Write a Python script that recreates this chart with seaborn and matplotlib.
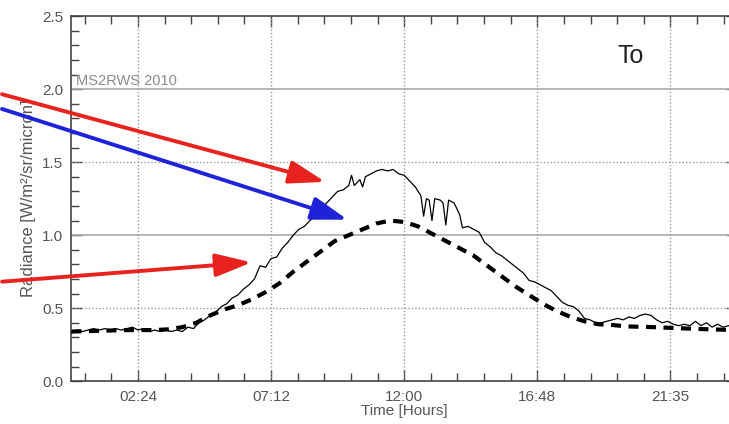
import numpy as np
import pandas as pd
import matplotlib
matplotlib.use("Agg")
import matplotlib.pyplot as plt
from matplotlib.ticker import FixedLocator, MultipleLocator
import seaborn as sns

# measured radiance (solid, noisy)
obs_hours = [0.0, 0.2, 0.4, 0.6, 0.8, 1.0, 1.2, 1.4, 1.6, 1.8, 2.0, 2.2, 2.4, 2.6, 2.8,
             3.0, 3.2, 3.4, 3.6, 3.8, 4.0, 4.2, 4.4, 4.6, 4.8, 5.0, 5.2, 5.4, 5.6, 5.8,
             6.0, 6.2, 6.4, 6.6, 6.8, 7.0, 7.2, 7.4, 7.6, 7.8, 8.0, 8.2, 8.4, 8.6, 8.8,
             9.0, 9.2, 9.4, 9.6, 9.8, 10.0, 10.1, 10.2, 10.4, 10.5, 10.6, 10.8, 11.0,
             11.2, 11.4, 11.6, 11.8, 12.0, 12.2, 12.4, 12.6, 12.7, 12.8, 12.9, 13.0,
             13.1, 13.3, 13.4, 13.5, 13.6, 13.8, 14.0, 14.1, 14.3, 14.5, 14.7, 14.9,
             15.1, 15.3, 15.5, 15.7, 15.9, 16.1, 16.3, 16.5, 16.7, 16.9, 17.1, 17.3,
             17.5, 17.7, 17.9, 18.1, 18.3, 18.5, 18.7, 18.9, 19.1, 19.3, 19.5, 19.7,
             19.9, 20.1, 20.3, 20.5, 20.7, 20.9, 21.1, 21.3, 21.5, 21.7, 21.9, 22.1,
             22.3, 22.5, 22.7, 22.9, 23.1, 23.3, 23.5, 23.7, 24.0]
obs_rad = [0.33, 0.35, 0.34, 0.35, 0.36, 0.35, 0.36, 0.35, 0.36, 0.35, 0.36, 0.37, 0.35, 0.36, 0.34,
           0.35, 0.34, 0.35, 0.34, 0.35, 0.34, 0.37, 0.36, 0.40, 0.42, 0.45, 0.47, 0.51, 0.53, 0.57,
           0.59, 0.63, 0.66, 0.70, 0.79, 0.78, 0.84, 0.85, 0.91, 0.95, 1.00, 1.04, 1.06, 1.10, 1.13,
           1.18, 1.22, 1.26, 1.30, 1.31, 1.34, 1.41, 1.34, 1.38, 1.33, 1.40, 1.42, 1.44,
           1.45, 1.44, 1.45, 1.42, 1.41, 1.37, 1.33, 1.27, 1.13, 1.25, 1.24, 1.10,
           1.25, 1.24, 1.22, 1.07, 1.24, 1.22, 1.14, 1.05, 1.06, 1.04, 1.02, 0.95,
           0.92, 0.88, 0.86, 0.83, 0.80, 0.77, 0.74, 0.69, 0.68, 0.66, 0.64, 0.62,
           0.58, 0.54, 0.52, 0.51, 0.48, 0.43, 0.42, 0.40, 0.40, 0.41, 0.42, 0.43,
           0.42, 0.44, 0.43, 0.45, 0.46, 0.45, 0.42, 0.40, 0.41, 0.39, 0.38, 0.39,
           0.38, 0.41, 0.38, 0.40, 0.37, 0.39, 0.37, 0.38, 0.36]

# model radiance (dashed, smooth)
mod_hours = [0, 1, 2, 3, 3.5, 4, 4.5, 5, 5.5, 6, 6.5, 7, 7.5, 8, 8.5, 9, 9.5, 10, 10.5, 11,
             11.5, 12, 12.5, 13, 13.5, 14, 14.5, 15, 15.5, 16, 16.5, 17, 17.5, 18, 18.5,
             19, 19.5, 20, 21, 22, 23, 24]
mod_rad = [0.34, 0.345, 0.35, 0.35, 0.355, 0.37, 0.40, 0.45, 0.49, 0.52, 0.56, 0.61, 0.67,
           0.75, 0.82, 0.89, 0.96, 1.00, 1.04, 1.08, 1.10, 1.09, 1.06, 1.01, 0.96, 0.91,
           0.86, 0.79, 0.72, 0.65, 0.59, 0.53, 0.48, 0.44, 0.41, 0.39, 0.385, 0.375,
           0.37, 0.362, 0.355, 0.35]

xtick_pos = [2.4, 7.2, 12.0, 16.8, 21.6]
xtick_labels = ["02:24", "07:12", "12:00", "16:48", "21:35"]
ytick_pos = [0.0, 0.5, 1.0, 1.5, 2.0, 2.5]

obs_df = pd.DataFrame({"hours": obs_hours, "radiance": obs_rad})
mod_df = pd.DataFrame({"hours": mod_hours, "radiance": mod_rad})

sns.set_style("ticks")
plt.rcParams["font.family"] = ["Liberation Sans", "DejaVu Sans"]

fig = plt.figure(figsize=(7.29, 4.24), dpi=100)
ax = fig.add_axes([0.098, 0.101, 0.913, 0.861])

text_grey = "#555555"
grid_grey = "#999999"

# grid
for xv in xtick_pos:
    ax.axvline(xv, color=grid_grey, lw=1.0, ls=(0, (1, 1.5)), zorder=1)
for yv in [0.5, 1.5]:
    ax.axhline(yv, color=grid_grey, lw=1.0, ls=(0, (1, 1.5)), zorder=1)
for yv in [1.0, 2.0]:
    ax.axhline(yv, color="#aaaaaa", lw=1.2, zorder=1)

sns.lineplot(data=obs_df, x="hours", y="radiance", ax=ax, color="black",
             lw=0.9, estimator=None, zorder=3)
sns.lineplot(data=mod_df, x="hours", y="radiance", ax=ax, color="black",
             lw=3.0, estimator=None, zorder=3)
ax.lines[-1].set_linestyle((0, (2.4, 1.8)))

ax.set_xlim(0, 24)
ax.set_ylim(0, 2.5)

ax.xaxis.set_major_locator(FixedLocator(xtick_pos))
ax.set_xticklabels(xtick_labels)
ax.xaxis.set_minor_locator(FixedLocator(np.arange(0.48, 24, 0.96)))
ax.yaxis.set_major_locator(FixedLocator(ytick_pos))
ax.yaxis.set_minor_locator(MultipleLocator(0.1))
ax.set_yticklabels([f"{v:.1f}" for v in ytick_pos])

ax.tick_params(which="both", direction="in", top=True, right=True,
               color="#444444", width=1.0, labelsize=11, labelcolor=text_grey)
ax.tick_params(which="major", length=8, pad=6)
ax.tick_params(which="minor", length=6)
for sp in ax.spines.values():
    sp.set_color("#444444")
    sp.set_linewidth(1.2)

ax.set_xlabel("Time [Hours]", fontsize=11, color=text_grey, labelpad=0)
ax.set_ylabel("Radiance [W/m\u00b2/sr/micron]", fontsize=12, color=text_grey, labelpad=4)

ax.text(0.15, 2.005, "MS2RWS 2010", fontsize=10.5, color="#8a8a8a", ha="left", va="bottom")
ax.text(20.15, 2.23, "To", fontsize=18, color="#222222", ha="center", va="center")

# annotation arrows
red = "#e8231f"
blue = "#1f23d8"
arrow_style = "-|>,head_length=1.0,head_width=0.32"
ax.annotate("", xy=(9.25, 1.36), xytext=(-2.6, 1.97),
            arrowprops=dict(arrowstyle=arrow_style, color=red, lw=2.8, mutation_scale=22),
            annotation_clip=False, zorder=5)
ax.annotate("", xy=(10.05, 1.10), xytext=(-2.6, 1.87),
            arrowprops=dict(arrowstyle=arrow_style, color=blue, lw=2.8, mutation_scale=22),
            annotation_clip=False, zorder=5)
ax.annotate("", xy=(6.6, 0.815), xytext=(-2.6, 0.68),
            arrowprops=dict(arrowstyle=arrow_style, color=red, lw=2.8, mutation_scale=22),
            annotation_clip=False, zorder=5)

fig.savefig("out.png", dpi=100)
